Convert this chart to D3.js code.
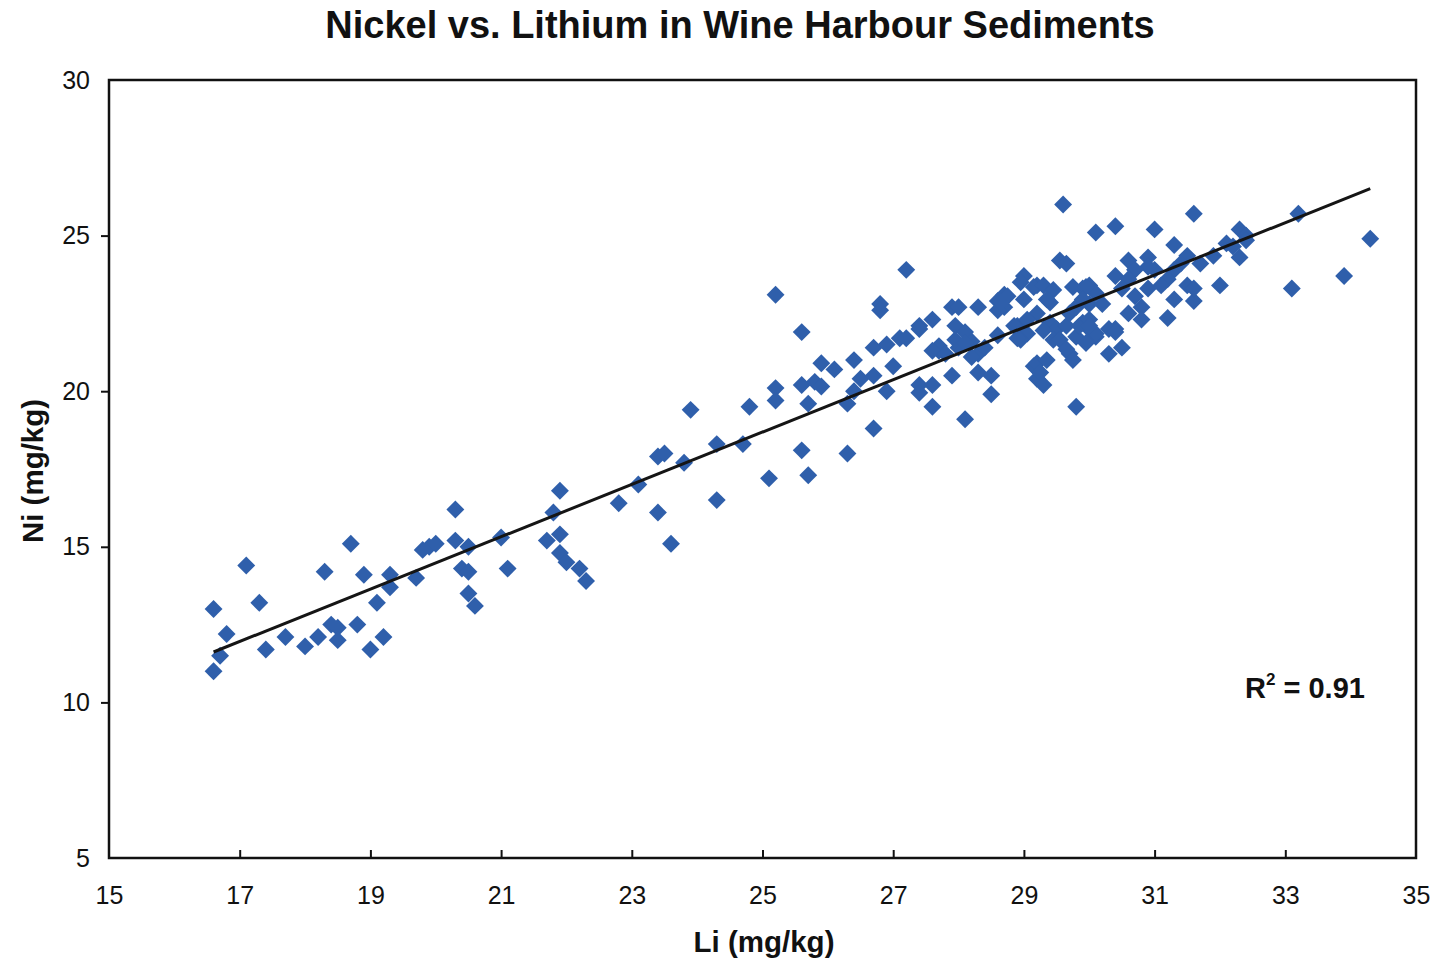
<!DOCTYPE html>
<html>
<head>
<meta charset="utf-8">
<script src="https://cdn.jsdelivr.net/npm/d3@7"></script>
<style>
  html, body { margin: 0; padding: 0; background: #fff; }
  svg { display: block; font-family: "Liberation Sans", Arial, sans-serif; }
</style>
</head>
<body>
<svg id="chart" width="1437" height="963"></svg>
<script>
// Lithium (x) and nickel (y) concentrations, mg/kg
const li = [
  16.6, 16.7, 16.6, 16.8, 17.1, 17.3, 17.4, 17.7, 18.0, 18.2, 18.3, 18.4, 18.5, 18.5, 18.7, 18.8,
  18.9, 19.0, 19.1, 19.2, 19.3, 19.3, 19.7, 19.8, 19.9, 20.0, 20.3, 20.3, 20.5, 20.4, 20.5, 20.5,
  20.6, 21.0, 21.1, 21.7, 21.8, 21.9, 21.9, 21.9, 22.0, 22.2, 22.3, 22.8, 23.1, 23.4, 23.5, 23.8,
  23.4, 23.6, 23.9, 24.3, 24.3, 24.7, 24.8, 25.1, 25.2, 25.2, 25.2, 25.6, 25.6, 25.7, 25.6, 25.8,
  25.9, 25.7, 25.9, 26.1, 26.4, 26.3, 26.4, 26.5, 26.7, 26.7, 26.3, 26.9, 27.0, 26.7, 26.9, 27.1,
  26.8, 26.8, 27.2, 27.4, 27.6, 27.4, 27.2, 27.4, 27.6, 27.4, 27.6, 27.9, 28.3, 28.5, 28.5, 28.1,
  27.9, 28.0, 28.3, 28.6, 28.7, 28.7, 28.6, 29.0, 29.2, 27.95, 28.1, 28.2, 27.7, 28.0, 28.3, 28.2,
  27.95, 28.1, 27.7, 27.6, 27.8, 28.4, 28.6, 28.9, 29.0, 29.15, 29.2, 29.2, 29.35, 29.25, 29.3, 29.8,
  29.6, 30.1, 30.4, 31.0, 31.6, 33.2, 34.3, 33.9, 33.1, 32.3, 32.4, 32.4, 32.3, 32.0, 32.1, 32.2,
  31.9, 31.7, 31.6, 31.5, 31.6, 31.3, 31.5, 31.4, 31.3, 31.2, 31.3, 31.2, 31.0, 30.9, 30.9, 31.1,
  30.6, 30.7, 30.4, 30.6, 30.5, 30.7, 30.8, 30.8, 30.6, 30.9, 30.0, 29.9, 30.1, 30.0, 29.8, 30.2,
  29.55, 29.65, 28.95, 29.15, 29.3, 29.45, 29.4, 29.35, 28.75, 28.65, 29.0, 29.2, 28.9, 29.05, 28.95, 29.4,
  29.5, 29.65, 29.9, 30.0, 29.8, 30.1, 30.3, 30.4, 30.3, 30.5, 29.7, 29.3, 29.45, 29.55, 29.7, 29.85,
  30.0, 30.05, 29.65, 29.95, 29.75, 29.75, 29.95, 29.9, 28.85, 29.05, 28.9, 30.4, 30.1, 30.0
];
const ni = [
  11.0, 11.5, 13.0, 12.2, 14.4, 13.2, 11.7, 12.1, 11.8, 12.1, 14.2, 12.5, 12.4, 12.0, 15.1, 12.5,
  14.1, 11.7, 13.2, 12.1, 14.1, 13.7, 14.0, 14.9, 15.0, 15.1, 16.2, 15.2, 15.0, 14.3, 14.2, 13.5,
  13.1, 15.3, 14.3, 15.2, 16.1, 16.8, 15.4, 14.8, 14.5, 14.3, 13.9, 16.4, 17.0, 17.9, 18.0, 17.7,
  16.1, 15.1, 19.4, 18.3, 16.5, 18.3, 19.5, 17.2, 20.1, 19.7, 23.1, 21.9, 18.1, 17.3, 20.2, 20.3,
  20.15, 19.6, 20.9, 20.7, 21.0, 19.6, 20.0, 20.4, 20.5, 18.8, 18.0, 20.0, 20.8, 21.4, 21.5, 21.7,
  22.8, 22.6, 23.9, 22.1, 22.3, 22.0, 21.7, 20.2, 20.2, 19.95, 19.5, 20.5, 20.6, 20.5, 19.9, 19.1,
  22.7, 22.7, 22.7, 22.9, 23.1, 22.7, 22.6, 23.7, 23.4, 22.1, 21.9, 21.6, 21.3, 21.4, 21.2, 21.1,
  21.65, 21.55, 21.45, 21.3, 21.2, 21.4, 21.8, 22.0, 21.8, 20.8, 20.4, 20.9, 21.0, 20.6, 20.2, 19.5,
  26.0, 25.1, 25.3, 25.2, 25.7, 25.7, 24.9, 23.7, 23.3, 25.2, 25.0, 24.85, 24.3, 23.4, 24.75, 24.65,
  24.35, 24.1, 22.9, 23.4, 23.3, 24.7, 24.35, 24.1, 23.9, 23.6, 22.95, 22.35, 23.9, 24.3, 24.0, 23.4,
  24.2, 23.9, 23.7, 23.6, 23.3, 23.05, 22.7, 22.3, 22.5, 23.3, 23.4, 23.3, 23.15, 22.8, 22.7, 22.8,
  24.2, 24.1, 23.5, 23.35, 23.4, 23.25, 22.85, 22.95, 23.05, 22.85, 22.95, 22.5, 22.1, 21.85, 21.65, 22.2,
  22.0, 22.1, 22.2, 22.0, 21.75, 21.75, 22.0, 22.0, 21.2, 21.4, 21.2, 21.95, 21.65, 21.65, 22.5, 22.1,
  22.3, 21.9, 21.35, 21.55, 21.0, 23.35, 23.35, 22.95, 22.1, 22.3, 21.7, 21.9, 21.85, 22.1
];

// Linear trend line end points
const trendLi = [16.6, 34.3];
const trendNi = [11.62, 26.51];

const xTicks = [15, 17, 19, 21, 23, 25, 27, 29, 31, 33, 35];
const yTicks = [5, 10, 15, 20, 25, 30];

const titleText = "Nickel vs. Lithium in Wine Harbour Sediments";
const xTitle = "Li (mg/kg)";
const yTitle = "Ni (mg/kg)";
const rSquared = "0.91";

const svg = d3.select("#chart");
const plotLeft = 109, plotRight = 1416, plotTop = 80, plotBottom = 858;

const x = d3.scaleLinear().domain([15, 35]).range([plotLeft, plotRight]);
const y = d3.scaleLinear().domain([5, 30]).range([plotBottom, plotTop]);

// Title
svg.append("text")
  .attr("x", 740).attr("y", 38)
  .attr("text-anchor", "middle")
  .attr("font-size", 38).attr("font-weight", "bold")
  .attr("fill", "#111")
  .text(titleText);

// Plot frame
svg.append("rect")
  .attr("x", plotLeft).attr("y", plotTop)
  .attr("width", plotRight - plotLeft).attr("height", plotBottom - plotTop)
  .attr("fill", "none").attr("stroke", "#111").attr("stroke-width", 2.5);

// Y axis: ticks point outward
const yAxis = d3.axisLeft(y).tickValues(yTicks).tickSize(8).tickPadding(11).tickFormat(d3.format("d"));
const gy = svg.append("g").attr("transform", `translate(${plotLeft},0)`).call(yAxis);
gy.select(".domain").remove();
gy.selectAll(".tick line").attr("stroke", "#111").attr("stroke-width", 2)
  .filter(d => d === 5 || d === 30).remove();
gy.selectAll(".tick text").attr("font-size", 25).attr("fill", "#111")
  .attr("font-family", "'Liberation Sans', Arial, sans-serif");

// X axis: ticks point inward
const xAxis = d3.axisBottom(x).tickValues(xTicks).tickSize(-8).tickPadding(28).tickFormat(d3.format("d"));
const gx = svg.append("g").attr("transform", `translate(0,${plotBottom})`).call(xAxis);
gx.select(".domain").remove();
gx.selectAll(".tick line").attr("stroke", "#111").attr("stroke-width", 2)
  .filter(d => d === 15 || d === 35).remove();
gx.selectAll(".tick text").attr("font-size", 25).attr("fill", "#111")
  .attr("font-family", "'Liberation Sans', Arial, sans-serif");

// Axis titles
svg.append("text")
  .attr("x", 764).attr("y", 952)
  .attr("text-anchor", "middle")
  .attr("font-size", 29.5).attr("font-weight", "bold").attr("fill", "#111")
  .text(xTitle);

svg.append("text")
  .attr("transform", "translate(43,471) rotate(-90)")
  .attr("text-anchor", "middle")
  .attr("font-size", 29.5).attr("font-weight", "bold").attr("fill", "#111")
  .text(yTitle);

// Data points: diamonds (squares turned 45 degrees)
const points = li.map((v, i) => ({ li: v, ni: ni[i] }));
const diamond = d3.symbol().type(d3.symbolSquare).size(160);
svg.append("g")
  .selectAll("path")
  .data(points)
  .join("path")
  .attr("d", diamond)
  .attr("transform", d => `translate(${x(d.li)},${y(d.ni)}) rotate(45)`)
  .attr("fill", "#2f5fab");

// Trend line
svg.append("line")
  .attr("x1", x(trendLi[0])).attr("y1", y(trendNi[0]))
  .attr("x2", x(trendLi[1])).attr("y2", y(trendNi[1]))
  .attr("stroke", "#151515").attr("stroke-width", 3);

// R-squared annotation
const rText = svg.append("text")
  .attr("x", 1245).attr("y", 698)
  .attr("font-size", 29).attr("font-weight", "bold").attr("fill", "#111");
rText.append("tspan").text("R");
rText.append("tspan").attr("font-size", 17).attr("dy", -13).text("2");
rText.append("tspan").attr("dy", 13).text(" = " + rSquared);
</script>
</body>
</html>
